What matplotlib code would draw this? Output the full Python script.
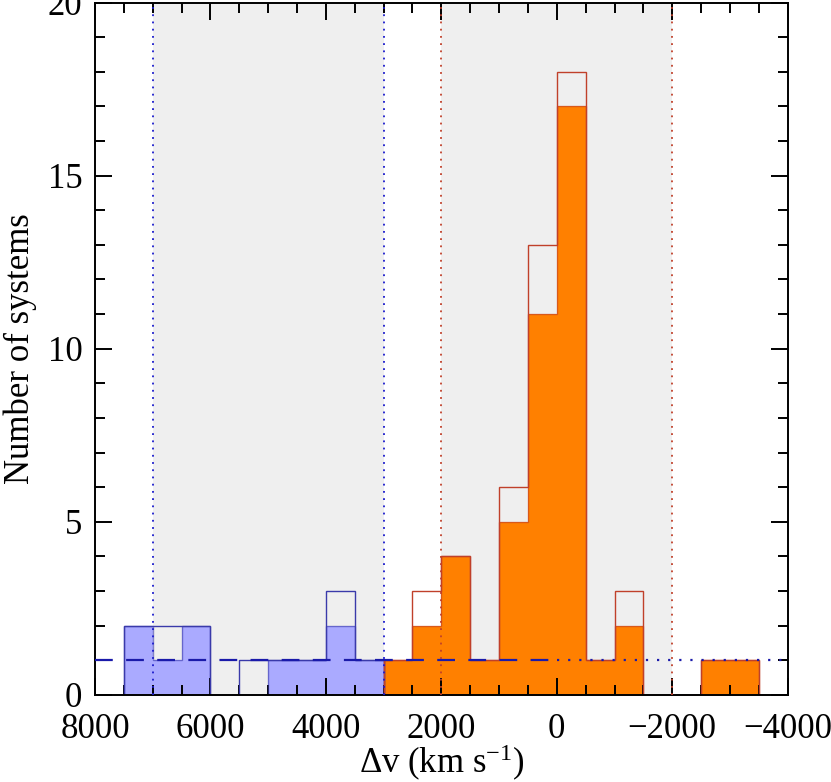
import numpy as np
import matplotlib
matplotlib.use("Agg")
import matplotlib.pyplot as plt
from matplotlib.ticker import MultipleLocator

plt.rcParams['font.family'] = ['Liberation Serif', 'DejaVu Serif']
plt.rcParams['mathtext.fontset'] = 'custom'
plt.rcParams['mathtext.rm'] = 'Liberation Serif'
plt.rcParams['mathtext.it'] = 'Liberation Serif:italic'

# Blue histogram (velocity bins, ascending), 500 km/s wide
blue_edges = [3000, 3500, 4000, 4500, 5000, 5500, 6000, 6500, 7000, 7500]
blue_all = [1, 3, 1, 1, 1, 0, 2, 2, 2]
blue_sub = [1, 2, 1, 1, 0, 0, 2, 1, 2]

# Orange histogram
orange_edges = [-3500, -3000, -2500, -2000, -1500, -1000, -500, 0, 500,
                1000, 1500, 2000, 2500, 3000]
orange_all = [1, 1, 0, 0, 3, 1, 18, 13, 6, 1, 4, 3, 1]
orange_sub = [1, 1, 0, 0, 2, 1, 17, 11, 5, 1, 4, 2, 1]

shade_regions = [(3000, 7000), (-2000, 2000)]
blue_vlines = [7000, 3000]
red_vlines = [2000, -2000]
baseline = 1

fig = plt.figure(figsize=(8.31, 7.82), dpi=100)
ax = fig.add_axes([0.1143, 0.1113, 0.8336, 0.8855])

for lo, hi in shade_regions:
    ax.axvspan(lo, hi, color='#efefef', lw=0, zorder=0)

blue_fill = '#aaaaff'
blue_line = '#3a3aaa'
orange_fill = '#ff8000'
orange_line = '#c0402a'

ax.stairs(blue_sub, blue_edges, fill=True, color=blue_fill, zorder=1)
ax.stairs(blue_sub, blue_edges, fill=False, color=blue_line, lw=1.0, zorder=2, alpha=0.6)
ax.stairs(blue_all, blue_edges, fill=False, color=blue_line, lw=1.0, zorder=2)

ax.stairs(orange_sub, orange_edges, fill=True, color=orange_fill, zorder=1)
ax.stairs(orange_sub, orange_edges, fill=False, color=orange_line, lw=1.0, zorder=2, alpha=0.6)
ax.stairs(orange_all, orange_edges, fill=False, color=orange_line, lw=1.0, zorder=2)

for v in blue_vlines:
    ax.axvline(v, color='#1a1acc', ls=(0, (1, 3)), lw=1.3, zorder=3)
for v in red_vlines:
    ax.axvline(v, color='#c0402a', ls=(0, (1, 3)), lw=1.3, zorder=3)

ax.plot([8000, 0], [baseline, baseline], color='#1a1aaa', ls=(0, (8, 6)), lw=1.6, zorder=4)
ax.plot([0, -4000], [baseline, baseline], color='#1a1aaa', ls=(0, (1, 4)), lw=1.6, zorder=4)

ax.set_xlim(8000, -4000)
ax.set_ylim(0, 20)
ax.xaxis.set_major_locator(MultipleLocator(2000))
ax.xaxis.set_minor_locator(MultipleLocator(500))
ax.yaxis.set_major_locator(MultipleLocator(5))
ax.yaxis.set_minor_locator(MultipleLocator(1))
ax.tick_params(which='both', direction='in', top=True, right=True, width=1.4,
               labelsize=25, colors='black')
ax.tick_params(axis='x', pad=13)
ax.tick_params(axis='y', pad=9)
ax.tick_params(which='major', length=12)
ax.tick_params(which='minor', length=7)
for s in ax.spines.values():
    s.set_linewidth(1.4)

ax.set_xlabel(r'$\Delta$v (km s$^{-1}$)', fontsize=25, labelpad=-2)
ax.set_ylabel('Number of systems', fontsize=25, labelpad=8)

fig.savefig('out.png', dpi=100)
